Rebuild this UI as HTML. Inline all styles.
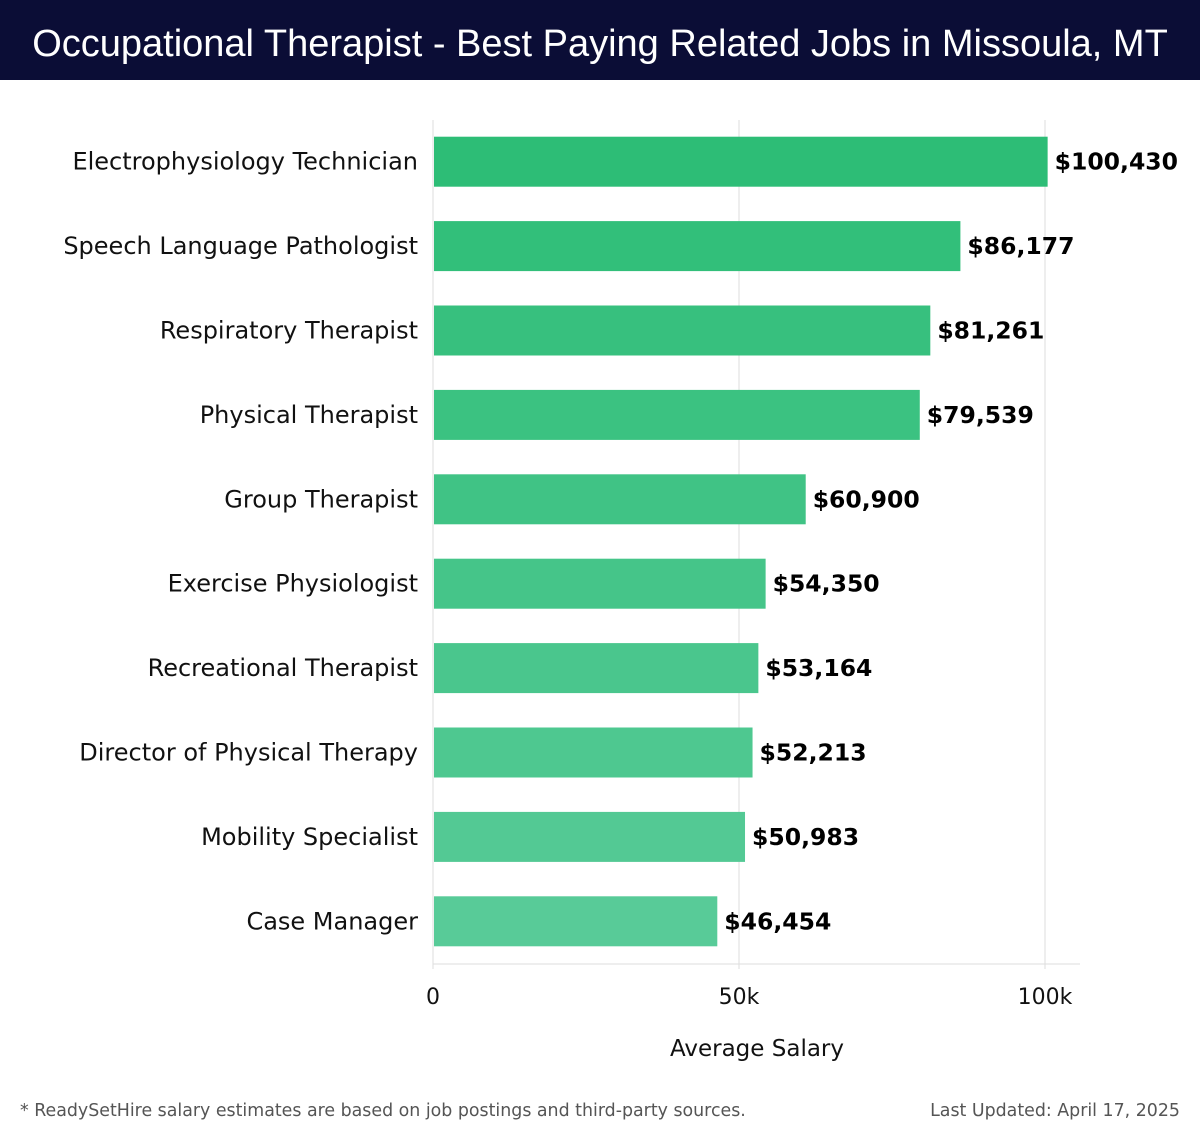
<!DOCTYPE html>
<html><head><meta charset="utf-8"><style>
body{margin:0;background:#fff;font-family:"DejaVu Sans","Liberation Sans",sans-serif;}
#wrap{position:relative;width:1200px;height:1140px;overflow:hidden}
#hdr{position:absolute;left:0;top:0;width:1200px;height:80px;background:#0b0d36;color:#fff;font-size:38px;line-height:88px;text-align:center;font-family:"Liberation Sans",sans-serif;white-space:nowrap}
.ft{position:absolute;top:1101px;font-size:17.4px;color:#555}
</style></head><body>
<div id="wrap">
<div id="hdr">Occupational Therapist - Best Paying Related Jobs in Missoula, MT</div>
<svg id="chart" width="1200" height="1140" style="position:absolute;left:0;top:0"></svg>
<div class="ft" style="left:20px">* ReadySetHire salary estimates are based on job postings and third-party sources.</div>
<div class="ft" style="right:20px">Last Updated: April 17, 2025</div>
</div>
<script>
const categories=["Electrophysiology Technician","Speech Language Pathologist","Respiratory Therapist","Physical Therapist","Group Therapist","Exercise Physiologist","Recreational Therapist","Director of Physical Therapy","Mobility Specialist","Case Manager"];
const salaries=[100430,86177,81261,79539,60900,54350,53164,52213,50983,46454];
const valueLabels=["$100,430","$86,177","$81,261","$79,539","$60,900","$54,350","$53,164","$52,213","$50,983","$46,454"];
const ticks=[0,50000,100000];
const tickLabels=["0","50k","100k"];
const NS="http://www.w3.org/2000/svg";
const svg=document.getElementById('chart');
const x0=433,x1=1045,top0=120,bottom=964;
const xs=v=>x0+(v/100000)*(x1-x0);
const step=(bottom-top0)/categories.length;
function mk(t,a){const e=document.createElementNS(NS,t);for(const k in a)e.setAttribute(k,a[k]);svg.appendChild(e);return e;}
ticks.forEach((t,i)=>{
 const g=mk('line',{x1:xs(t),x2:xs(t),y1:top0,y2:969,stroke:'#dddddd','stroke-width':1});
 
 
 const tl=mk('text',{x:xs(t),y:1004,'text-anchor':'middle','font-size':22,fill:'#111'});
 tl.textContent=tickLabels[i];
 
 
});
const ax=mk('line',{x1:x0,x2:1080,y1:bottom,y2:bottom,stroke:'#dddddd','stroke-width':1});


const c0=[45,189,118],c1=[88,203,152];
categories.forEach((c,i)=>{
 const cy=top0+step*i+step/2-0.5;
 const f=i/(categories.length-1);
 const col='rgb('+c0.map((v,k)=>Math.round(v+(c1[k]-v)*f)).join(',')+')';
 const r=mk('rect',{x:x0+1,y:cy-25,width:xs(salaries[i])-x0-1,height:50,fill:col});
 
 
 const l=mk('text',{x:418,y:cy+8,'text-anchor':'end','font-size':24,fill:'#111'});
 l.textContent=c;
 
 
 const v=mk('text',{x:xs(salaries[i])+7,y:cy+8,'font-size':23.5,'font-weight':'bold',fill:'#000'});
 v.textContent=valueLabels[i];
 
 
});
const at=mk('text',{x:757,y:1056,'text-anchor':'middle','font-size':23,fill:'#111'});
at.textContent='Average Salary';


</script>
</body></html>
